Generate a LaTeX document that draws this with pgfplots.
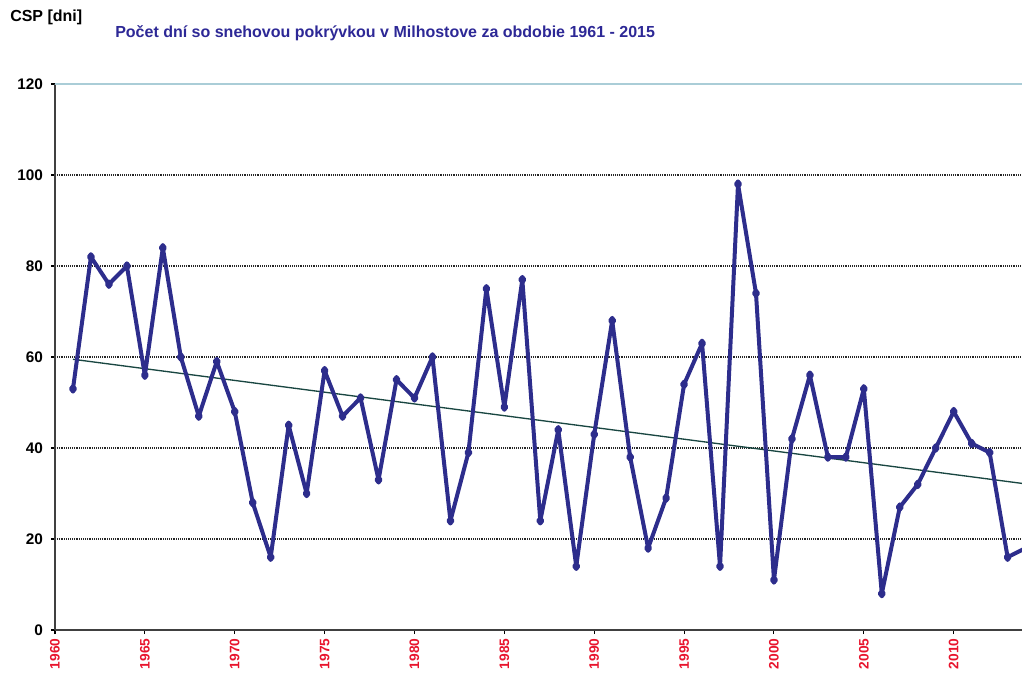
\documentclass[border=0pt]{standalone}
\usepackage{fontspec}
\setmainfont{Liberation Sans}
\usepackage{pgfplots}
\pgfplotsset{compat=1.18}
\definecolor{navyline}{RGB}{45,45,140}
\definecolor{titleblue}{RGB}{45,40,150}
\definecolor{trendc}{RGB}{25,70,65}
\definecolor{tickred}{RGB}{232,20,45}
\definecolor{topline}{RGB}{170,205,215}
\pgfplotstableread{
year val
1961 53
1962 82
1963 76
1964 80
1965 56
1966 84
1967 60
1968 47
1969 59
1970 48
1971 28
1972 16
1973 45
1974 30
1975 57
1976 47
1977 51
1978 33
1979 55
1980 51
1981 60
1982 24
1983 39
1984 75
1985 49
1986 77
1987 24
1988 44
1989 14
1990 43
1991 68
1992 38
1993 18
1994 29
1995 54
1996 63
1997 14
1998 98
1999 74
2000 11
2001 42
2002 56
2003 38
2004 38
2005 53
2006 8
2007 27
2008 32
2009 40
2010 48
2011 41
2012 39
2013 16
2014 18
}\snowdata
\begin{document}
\begin{tikzpicture}
\path[use as bounding box] (-41.25pt,-33.75pt) rectangle (725.25pt,472.5pt);
\begin{axis}[
  at={(0,0)}, anchor=south west, scale only axis,
  width=725.25pt, height=409.5pt,
  xmin=1960, xmax=2013.8, ymin=0, ymax=120,
  axis x line*=bottom, axis y line*=left,
  axis line style={black!75, line width=1.5pt},
  xtick={1960,1965,...,2010}, ytick={0,20,...,120},
  tick align=outside, major tick length=3pt,
  tick style={black, line width=0.8pt},
  ymajorgrids, grid style={densely dotted, black!85, line width=1pt},
  /pgf/number format/assume math mode=true,
  /pgf/number format/1000 sep={},
  yticklabel style={font=\bfseries\fontsize{11.5}{12}\selectfont, black, xshift=-2.5pt},
  xticklabel style={rotate=90, anchor=east, text=tickred, font=\bfseries\fontsize{10.3}{11}\selectfont},
]
\draw[topline, line width=1.2pt] (axis cs:1960,120) -- (axis cs:2013.8,120);
\addplot[trendc, line width=1pt] coordinates {(1961,59.5) (2015,31.6)};
\addplot[navyline, line width=3pt, line join=round, mark=diamond*, mark size=2pt, mark options={solid}] table[x=year, y=val] {\snowdata};
\end{axis}
\node[anchor=west, inner sep=0, font=\bfseries\fontsize{12}{13}\selectfont] at (-33.75pt,459.75pt) {CSP [dni]};
\node[anchor=west, inner sep=0, text=titleblue, font=\bfseries\fontsize{12}{13}\selectfont] at (45pt,447.75pt) {Počet dní so snehovou pokrývkou v Milhostove za obdobie 1961 - 2015};
\end{tikzpicture}
\end{document}
